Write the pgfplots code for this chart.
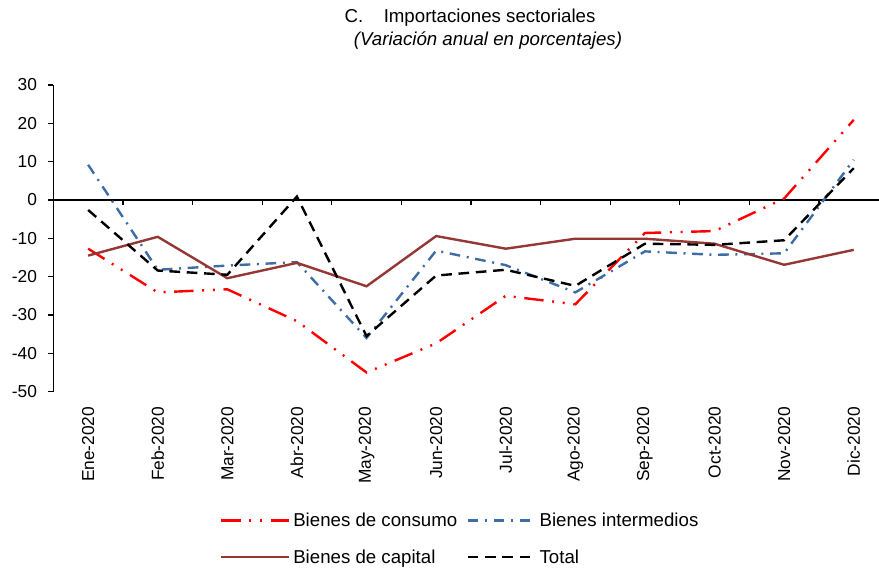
\documentclass[border=0pt]{standalone}
\usepackage{pgfplots}
\pgfplotsset{compat=1.18}
\usepackage{fontspec}
\setmainfont{Liberation Sans}
\definecolor{cons}{RGB}{255,0,0}
\definecolor{inte}{RGB}{62,108,164}
\definecolor{capi}{RGB}{149,55,53}
\begin{document}
\begin{tikzpicture}
\begin{axis}[
  name=ax,
  scale only axis,
  width=619.1pt, height=230pt,
  xmin=-0.5, xmax=11.36,
  ymin=-50, ymax=30,
  axis y line*=left,
  axis x line*=bottom,
  x axis line style={draw=none},
  y axis line style={black, line width=0.9pt},
  xtick={0,...,11},
  xticklabels={Ene-2020,Feb-2020,Mar-2020,Abr-2020,May-2020,Jun-2020,Jul-2020,Ago-2020,Sep-2020,Oct-2020,Nov-2020,Dic-2020},
  x tick style={draw=none},
  xticklabel style={rotate=90, anchor=east, font=\fontsize{13}{15}\selectfont},
  xticklabel shift=4pt,
  ytick={-50,-40,-30,-20,-10,0,10,20,30},
  y tick style={black, line width=0.9pt},
  tick align=outside,
  major tick length=3.75pt,
  yticklabel style={font=\fontsize{13}{15}\selectfont, xshift=-5pt},
  /pgf/number format/assume math mode=true,
  clip=false,
  legend columns=2,
  legend cell align=left,
  legend style={at={(0.197,-0.48)}, anchor=west, draw=none, fill=none,
    font=\fontsize{14}{16}\selectfont,
    /tikz/every even column/.append style={column sep=5pt},
    row sep=12pt},
  legend image code/.code={\draw[#1] (0pt,0pt) -- (51pt,0pt);},
]
\addplot[black, line width=0.9pt, forget plot] coordinates {(-0.5,0) (11.36,0)};
\addplot[black, line width=0.9pt, ycomb, forget plot] coordinates {(0.5,-1.3) (1.5,-1.3) (2.5,-1.3) (3.5,-1.3) (4.5,-1.3) (5.5,-1.3) (6.5,-1.3) (7.5,-1.3) (8.5,-1.3) (9.5,-1.3) (10.5,-1.3)};
\addplot[cons, line width=1.8pt, dash pattern=on 14.5pt off 6.5pt on 1.5pt off 6.5pt on 1.5pt off 6.5pt] coordinates {
(0,-12.7) (1,-24.1) (2,-23.3) (3,-31.6) (4,-45.0) (5,-37.4) (6,-25.0) (7,-27.2) (8,-8.6) (9,-8.1) (10,0.4) (11,20.9)};
\addlegendentry{Bienes de consumo}
\addplot[inte, line width=1.8pt, dash pattern=on 8pt off 5pt on 1.5pt off 5pt] coordinates {
(0,9.2) (1,-18.2) (2,-17.1) (3,-16.2) (4,-36.0) (5,-13.2) (6,-17.0) (7,-24.1) (8,-13.4) (9,-14.3) (10,-13.9) (11,10.5)};
\addlegendentry{Bienes intermedios}
\addplot[capi, line width=1.8pt] coordinates {
(0,-14.5) (1,-9.6) (2,-20.4) (3,-16.4) (4,-22.5) (5,-9.4) (6,-12.7) (7,-10.1) (8,-10.1) (9,-11.4) (10,-16.9) (11,-13.0)};
\addlegendentry{Bienes de capital}
\addplot[black, line width=1.8pt, dash pattern=on 8pt off 5pt] coordinates {
(0,-2.6) (1,-18.4) (2,-19.5) (3,0.9) (4,-35.5) (5,-19.7) (6,-18.2) (7,-22.4) (8,-11.4) (9,-11.7) (10,-10.5) (11,8.3)};
\addlegendentry{Total}
\end{axis}
\node[font=\fontsize{14}{16}\selectfont] at ([shift={(312.5pt,280.3pt)}]ax.south west) {C.\hspace{1.1em}Importaciones sectoriales};
\node[font=\fontsize{14}{16}\selectfont\itshape] at ([shift={(326pt,263pt)}]ax.south west) {(Variación anual en porcentajes)};
\pgfresetboundingbox
\useasboundingbox ([shift={(-40pt,-133pt)}]ax.south west) rectangle ([shift={(619.25pt,293.75pt)}]ax.south west);
\end{tikzpicture}
\end{document}
